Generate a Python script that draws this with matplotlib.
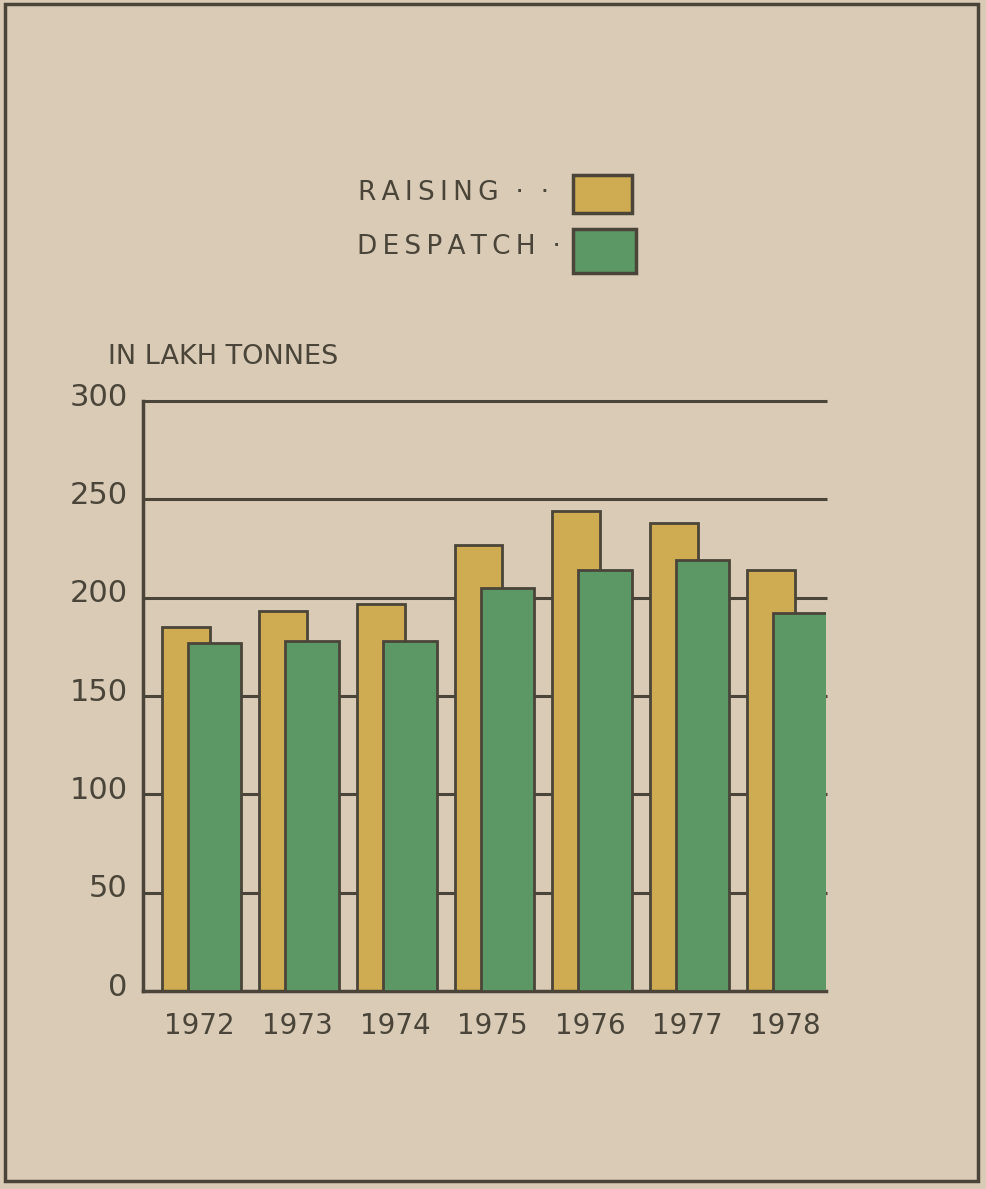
import numpy as np
from matplotlib import pyplot as plt
from matplotlib.patches import Rectangle
from matplotlib.transforms import ScaledTranslation

# data (lakh tonnes)
years = ['1972', '1973', '1974', '1975', '1976', '1977', '1978']
raising = [185, 193, 197, 227, 244, 238, 214]
despatch = [177, 178, 178, 205, 214, 219, 192]
yticks = [0, 50, 100, 150, 200, 250, 300]

bg = '#d9cbb6'
ink = '#4a4538'
yellow = '#cfac52'
green = '#5c9866'

fig = plt.figure(figsize=(9.86, 11.89), dpi=100, facecolor=bg)
ax = fig.add_axes([0.145, 0.1665, 0.693, 0.4962])
ax.set_facecolor(bg)

x = np.arange(len(years))
# horizontal rules behind the bars
ax.hlines(yticks[1:], -0.58, 6.43, colors=ink, linewidth=2.2, zorder=1, clip_on=False)
ax.bar(x - 0.143, raising, width=0.49, color=yellow, edgecolor=ink, linewidth=2, zorder=2)
ax.bar(x + 0.153, despatch, width=0.55, color=green, edgecolor=ink, linewidth=2, zorder=3)

ax.set_xlim(-0.58, 6.42)
ax.set_ylim(0, 300)
for s in ['top', 'right']:
    ax.spines[s].set_visible(False)
for s in ['left', 'bottom']:
    ax.spines[s].set_color(ink)
    ax.spines[s].set_linewidth(2.5)

ax.set_yticks(yticks)
ax.set_yticklabels([str(v) for v in yticks])
ax.set_xticks(x)
ax.set_xticklabels(years)
ax.tick_params(axis='y', length=0, pad=11, labelsize=22, labelcolor=ink)
ax.tick_params(axis='x', length=0, pad=15, labelsize=20, labelcolor=ink)
for lab in ax.get_yticklabels():
    lab.set_transform(lab.get_transform() + ScaledTranslation(0, 5 / 72, fig.dpi_scale_trans))

fig.text(0.1095, 0.700, 'IN LAKH TONNES', fontsize=19.5, color=ink, va='center', ha='left')

# legend drawn by hand
ts = '\u2009'
fig.text(0.363, 0.838, ts.join('RAISING') + '  ·  ·', fontsize=19, color=ink,
         va='center', ha='left')
fig.text(0.362, 0.792, ts.join('DESPATCH') + '  ·', fontsize=19, color=ink,
         va='center', ha='left')
fig.patches.append(Rectangle((0.581, 0.821), 0.060, 0.032, transform=fig.transFigure,
                             facecolor=yellow, edgecolor=ink, linewidth=2.5))
fig.patches.append(Rectangle((0.581, 0.770), 0.064, 0.037, transform=fig.transFigure,
                             facecolor=green, edgecolor=ink, linewidth=2.5))

# outer frame
fig.patches.append(Rectangle((0.005, 0.007), 0.987, 0.99, transform=fig.transFigure,
                             fill=False, edgecolor=ink, linewidth=2.5))

fig.savefig('out.png', dpi=100, facecolor=bg)
